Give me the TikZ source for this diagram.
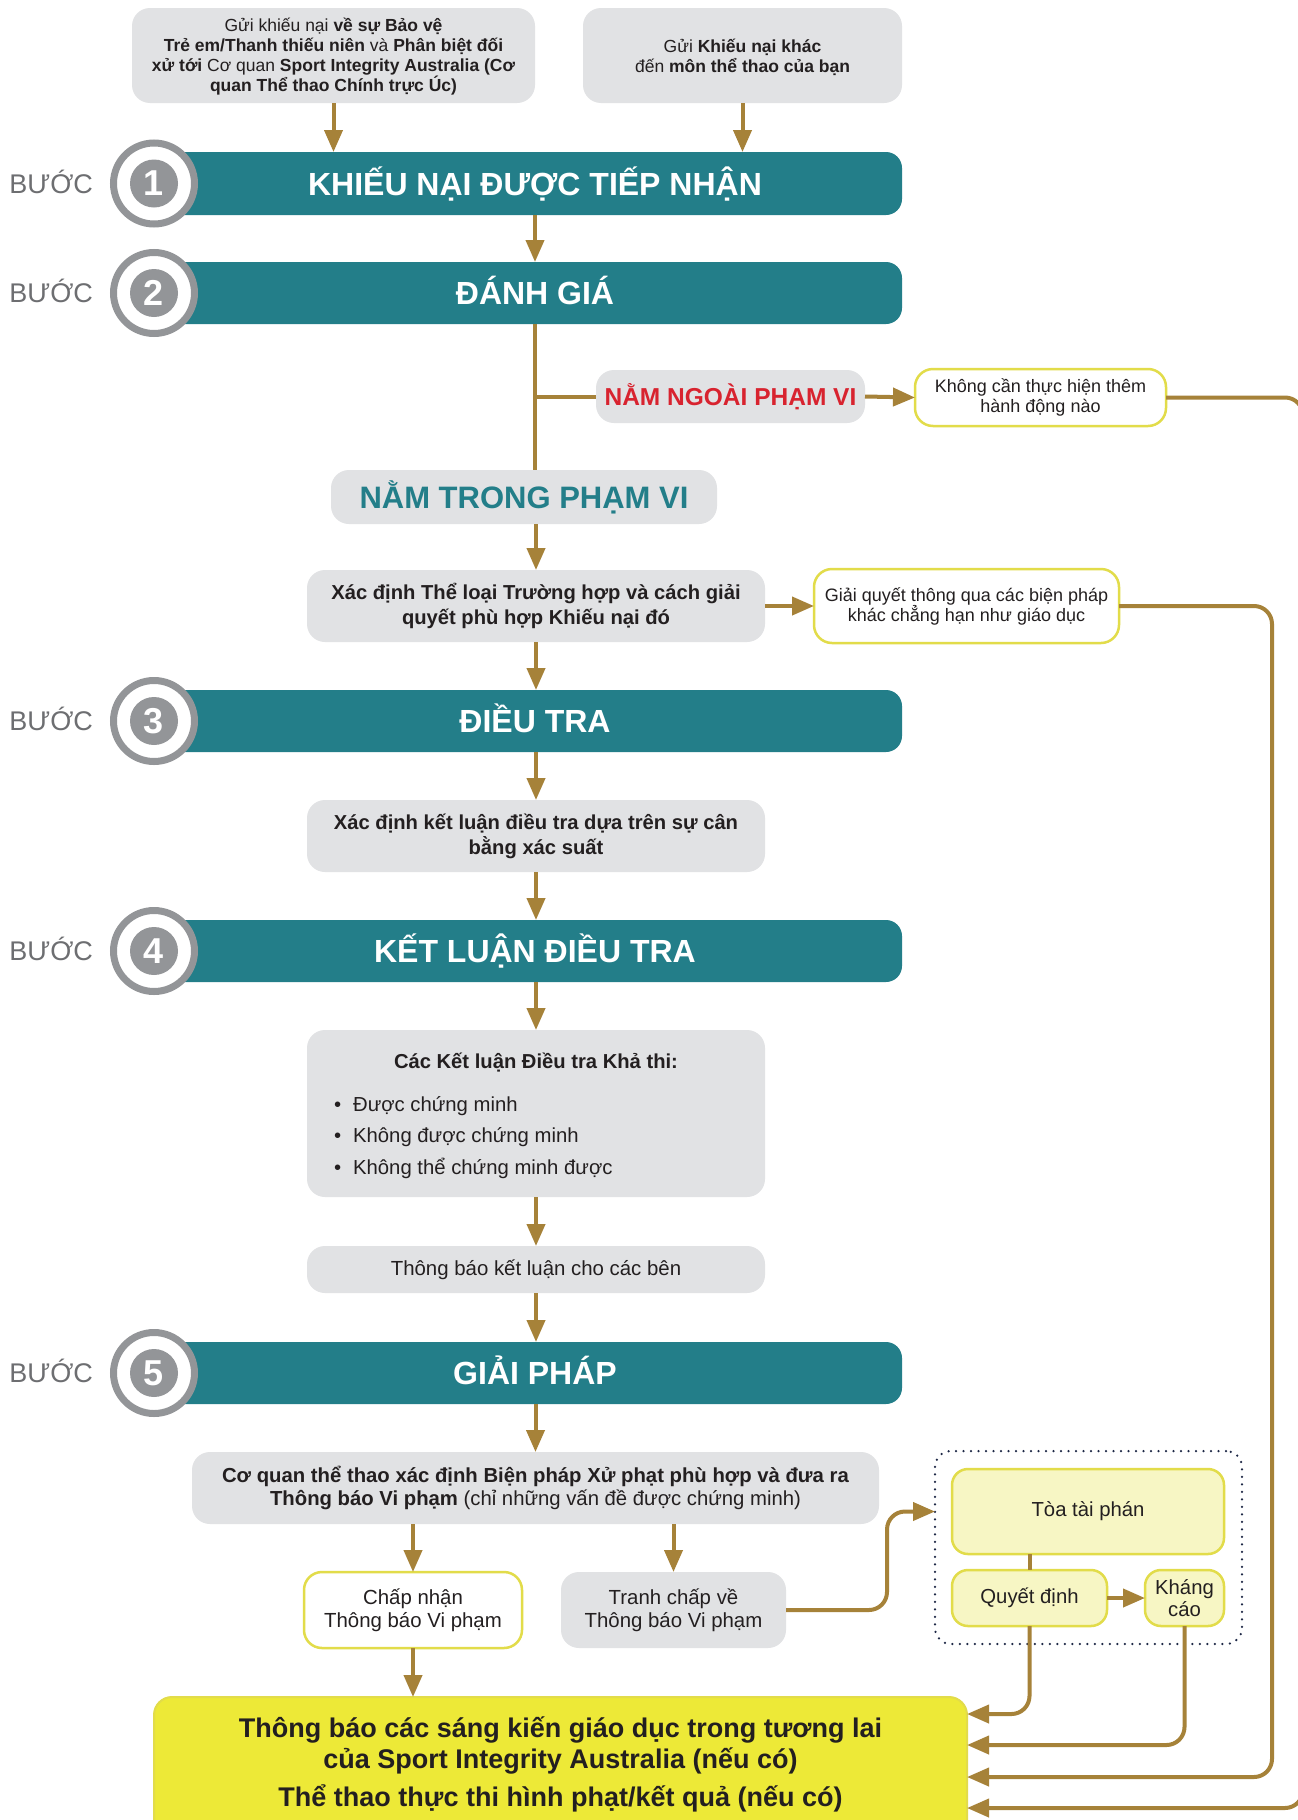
\documentclass[tikz,border=0pt]{standalone}
\usepackage{fontspec}
\setmainfont{Liberation Sans}
\usetikzlibrary{arrows.meta}
\definecolor{teal1}{RGB}{35,126,137}
\definecolor{arr}{RGB}{166,130,57}
\definecolor{gbox}{RGB}{225,226,228}
\definecolor{cgrey}{RGB}{147,149,152}
\definecolor{sgrey}{RGB}{109,110,113}
\definecolor{redt}{RGB}{216,35,47}
\definecolor{ybord}{RGB}{226,220,74}
\definecolor{lyel}{RGB}{247,246,196}
\definecolor{byel}{RGB}{237,233,55}
\definecolor{dotc}{RGB}{30,40,70}
\definecolor{txt}{RGB}{35,31,32}
\newcommand\fs[2]{\fontsize{#1}{#2}\selectfont}
\begin{document}
\begin{tikzpicture}[x=1pt,y=-1pt,
  every node/.style={inner sep=0pt, outer sep=0pt, text=txt},
  gb/.style={anchor=north west, fill=gbox, rounded corners=18pt, align=center},
  wb/.style={anchor=north west, fill=white, draw=ybord, line width=2.5pt, rounded corners=18pt, align=center},
  lb/.style={anchor=north west, fill=lyel, draw=ybord, line width=2.5pt, rounded corners=16pt, align=center, font=\fs{20.3}{22}},
  bar/.style={anchor=north west, fill=teal1, rounded corners=16pt, text=white, font=\fs{32}{32}\bfseries, text height=27pt, text depth=4pt, minimum width=734pt},
  ring/.style={circle, fill=white, draw=cgrey, line width=7pt, minimum size=81pt},
  num/.style={circle, fill=cgrey, minimum size=48pt, text=white, font=\fs{36}{36}\bfseries},
  stepl/.style={anchor=east, font=\fs{27}{27}, text=sgrey, text height=19.5pt, text depth=0pt},
  conn/.style={draw=arr, line width=4pt},
  arrw/.style={conn, -{Triangle[length=22pt 0 0, width=18pt 0 0]}},
]
\useasboundingbox[fill=white] (0,0) rectangle (1298,1820);

% top boxes
\node[gb, minimum width=403pt, minimum height=95pt, font=\fs{17.5}{20}] (tl) at (132,8)
 {\rule{0pt}{16pt}Gửi khiếu nại \textbf{về sự Bảo vệ}\\\textbf{Trẻ em/Thanh thiếu niên} và \textbf{Phân biệt đối}\\\textbf{xử tới} Cơ quan \textbf{Sport Integrity Australia (Cơ}\\\textbf{quan Thể thao Chính trực Úc)}};
\node[gb, minimum width=319pt, minimum height=95pt, font=\fs{17.5}{20}] (tr) at (583,8)
 {\rule{0pt}{17pt}Gửi \textbf{Khiếu nại khác}\\đến \textbf{môn thể thao của bạn}};

% bars
\node[bar, minimum height=63pt] (s1) at (168,152) {KHIẾU NẠI ĐƯỢC TIẾP NHẬN};
\node[bar, minimum height=62pt] (s2) at (168,262) {ĐÁNH GIÁ};
\node[bar, minimum height=62pt] (s3) at (168,690) {ĐIỀU TRA};
\node[bar, minimum height=62pt] (s4) at (168,920) {KẾT LUẬN ĐIỀU TRA};
\node[bar, minimum height=62pt] (s5) at (168,1342) {GIẢI PHÁP};

% circles and step labels
\node[ring] (r1) at (154,183.5) {}; \node[num] (n1) at (r1) {1};
\node[ring] (r2) at (154,293) {};   \node[num] (n2) at (r2) {2};
\node[ring] (r3) at (154,721) {};   \node[num] (n3) at (r3) {3};
\node[ring] (r4) at (154,951) {};   \node[num] (n4) at (r4) {4};
\node[ring] (r5) at (154,1373) {};  \node[num] (n5) at (r5) {5};
\node[stepl] (b1) at (93,183.5) {BƯỚC};
\node[stepl] (b2) at (93,293) {BƯỚC};
\node[stepl] (b3) at (93,721) {BƯỚC};
\node[stepl] (b4) at (93,951) {BƯỚC};
\node[stepl] (b5) at (93,1373) {BƯỚC};

% scope boxes
\node[gb, minimum width=269pt, minimum height=53pt, font=\fs{24.5}{24.5}\bfseries, text=redt, text height=21.5pt, text depth=4pt] (nn) at (596,370) {NẰM NGOÀI PHẠM VI};
\node[wb, minimum width=251pt, minimum height=57pt, font=\fs{18}{20}] (kc) at (915,369) {Không cần thực hiện thêm\\hành động nào};
\node[gb, minimum width=386pt, minimum height=54pt, font=\fs{31}{31}\bfseries, text=teal1, text height=26pt, text depth=4pt] (nt) at (331,470) {NẰM TRONG PHẠM VI};
\node[gb, minimum width=458pt, minimum height=72pt, font=\fs{20.2}{25}\bfseries] (xd) at (307,570) {\rule{0pt}{17pt}Xác định Thể loại Trường hợp và cách giải\\quyết phù hợp Khiếu nại đó};
\node[wb, minimum width=305pt, minimum height=74pt, font=\fs{18}{20}] (gq) at (814,569) {Giải quyết thông qua các biện pháp\\khác chẳng hạn như giáo dục};

\node[gb, minimum width=458pt, minimum height=72pt, font=\fs{20.2}{25}\bfseries] (xk) at (307,800) {\rule{0pt}{17pt}Xác định kết luận điều tra dựa trên sự cân\\bằng xác suất};
\node[gb, minimum width=458pt, minimum height=167pt] (kl) at (307,1030) {};
\node[anchor=base, font=\fs{20.2}{25}\bfseries] (klt) at (536,1068) {Các Kết luận Điều tra Khả thi:};
\node[anchor=base west, font=\fs{20.3}{24}] (k1) at (334,1111) {\textbullet\hspace{12pt}Được chứng minh};
\node[anchor=base west, font=\fs{20.3}{24}] (k2) at (334,1142) {\textbullet\hspace{12pt}Không được chứng minh};
\node[anchor=base west, font=\fs{20.3}{24}] (k3) at (334,1174) {\textbullet\hspace{12pt}Không thể chứng minh được};
\node[gb, minimum width=458pt, minimum height=47pt, font=\fs{20.4}{24}] (tb) at (307,1246) {Thông báo kết luận cho các bên};

\node[gb, minimum width=687pt, minimum height=72pt, font=\fs{20.3}{23}] (cq) at (192,1452) {\textbf{Cơ quan thể thao xác định Biện pháp Xử phạt phù hợp và đưa ra}\\\textbf{Thông báo Vi phạm} (chỉ những vấn đề được chứng minh)};
\node[wb, minimum width=218pt, minimum height=76pt, font=\fs{20.4}{23}] (cn) at (304,1572) {Chấp nhận\\Thông báo Vi phạm};
\node[gb, minimum width=225pt, minimum height=76pt, font=\fs{20.4}{23}] (tc) at (561,1572) {Tranh chấp về\\Thông báo Vi phạm};

% tribunal group
\node[anchor=north west, draw=dotc, line width=2.5pt, dash pattern=on 0pt off 7.5pt, line cap=round, rounded corners=16pt, minimum width=307pt, minimum height=193pt] (grp) at (935,1451) {};
\node[lb, minimum width=272pt, minimum height=85pt] (toa) at (952,1469) {Tòa tài phán};
\node[lb, minimum width=155pt, minimum height=56pt] (qd) at (952,1570) {Quyết định};
\node[lb, minimum width=79pt, minimum height=56pt] (kca) at (1145,1570) {Kháng\\cáo};

% bottom box
\node[anchor=north west, fill=byel, draw=ybord, line width=2pt, rounded corners=18pt, minimum width=813pt, minimum height=160pt] (yb) at (154,1697) {};
\node[anchor=base, font=\fs{27}{32}\bfseries] (y1t) at (560.5,1737) {Thông báo các sáng kiến giáo dục trong tương lai};
\node[anchor=base, font=\fs{27}{32}\bfseries] (y2t) at (560.5,1768) {của Sport Integrity Australia (nếu có)};
\node[anchor=base, font=\fs{27}{32}\bfseries] (y3t) at (560.5,1806) {Thể thao thực thi hình phạt/kết quả (nếu có)};

\coordinate (e1) at (967,1714);
\coordinate (e2) at (967,1745);
\coordinate (e3) at (967,1777);
\coordinate (e4) at (967,1808);
\coordinate (rail3) at (1272,1777);
\coordinate (rail4) at (1303,1808);

% connectors
\draw[arrw] (tl.south) -- (tl.south |- s1.north);
\draw[arrw] (tr.south) -- (tr.south |- s1.north);
\draw[arrw] (s1.south) -- (s2.north);
\draw[conn] (s2.south) -- (s2.south |- nt.north);
\draw[conn] (s2.south |- nn.west) -- (nn.west);
\draw[arrw] (nn.east) -- (kc.west);
\draw[arrw] (xd.north |- nt.south) -- (xd.north);
\draw[arrw] (xd.east) -- (gq.west);
\draw[arrw] (xd.south) -- (s3.north -| xd.south);
\draw[arrw] (s3.south -| xk.north) -- (xk.north);
\draw[arrw] (xk.south) -- (s4.north -| xk.south);
\draw[arrw] (s4.south -| kl.north) -- (kl.north);
\draw[arrw] (kl.south) -- (tb.north);
\draw[arrw] (tb.south) -- (s5.north -| tb.south);
\draw[arrw] (s5.south -| cq.north) -- (cq.north);
\draw[arrw] (cq.south -| cn.north) -- (cn.north);
\draw[arrw] (cq.south -| tc.north) -- (tc.north);
\draw[arrw] (cn.south) -- (cn.south |- yb.north);
\draw[arrw, rounded corners=18pt] (tc.east) -- ++(101,0) |- (grp.west |- toa.west);
\draw[conn] (qd.north |- toa.south) -- (qd.north);
\draw[arrw] (qd.east) -- (kca.west);
\draw[arrw, rounded corners=18pt] (qd.south) |- (e1);
\draw[arrw, rounded corners=18pt] (kca.south) |- (e2);
\draw[arrw, rounded corners=18pt] (gq.east) -| (rail3) -- (e3);
\draw[arrw, rounded corners=18pt] (kc.east) -| (rail4) -- (e4);
\end{tikzpicture}
\end{document}
